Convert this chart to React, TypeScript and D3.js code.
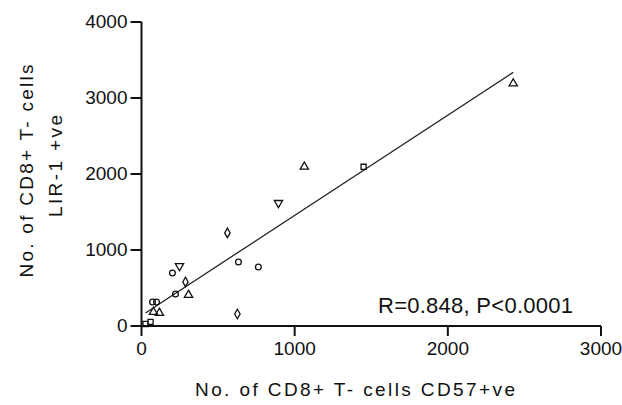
import React from "react";
import * as d3 from "d3";

// CD8+ T-cell counts per subject
const cd57Counts = [2427, 1450, 1063, 894, 561, 633, 763, 626, 248, 202, 287, 307, 222, 72, 98, 78, 117, 59, 26];
const lir1Counts = [3190, 2095, 2095, 1620, 1225, 843, 777, 158, 790, 698, 580, 408, 422, 316, 316, 184, 171, 53, 26];
const markerKinds = ["tri", "sq", "tri", "triDown", "dia", "circ", "circ", "dia", "triDown", "circ", "dia", "tri", "circ", "circ", "circ", "tri", "tri", "sq", "sq"];

const xTicks = [0, 1000, 2000, 3000];
const yTicks = [0, 1000, 2000, 3000, 4000];
const statsLabel = "R=0.848, P<0.0001";

const W = 622;
const H = 405;
const FONT = "'Liberation Sans', Arial, sans-serif";

export default function App() {
  const x = d3.scaleLinear().domain([0, 3000]).range([141.5, 601]);
  const y = d3.scaleLinear().domain([0, 4000]).range([326, 22]);

  // least-squares fit of LIR-1+ve against CD57+ve
  const mx = d3.mean(cd57Counts)!;
  const my = d3.mean(lir1Counts)!;
  const sxy = d3.sum(cd57Counts, (v, i) => (v - mx) * (lir1Counts[i] - my));
  const sxx = d3.sum(cd57Counts, (v) => (v - mx) * (v - mx));
  const slope = sxy / sxx;
  const intercept = my - slope * mx;
  const [x0, x1] = d3.extent(cd57Counts) as [number, number];
  const fitLine = d3.line<number>().x((v) => x(v)).y((v) => y(intercept + slope * v))([x0, x1]);

  const symbolFor = (k: string) => {
    if (k === "sq") return d3.symbol().type(d3.symbolSquare).size(26)();
    if (k === "dia") return d3.symbol().type(d3.symbolDiamond).size(26)();
    if (k === "circ") return d3.symbol().type(d3.symbolCircle).size(26)();
    return d3.symbol().type(d3.symbolTriangle).size(30)();
  };

  return (
    <svg width={W} height={H} style={{ position: "absolute", left: 0, top: 0, background: "#fff" }} fontFamily={FONT}>
      {/* axes */}
      <line x1={x(0)} x2={x(0)} y1={y(4000)} y2={y(0)} stroke="#111" strokeWidth={2} />
      <line x1={x(0)} x2={x(3000)} y1={y(0)} y2={y(0)} stroke="#111" strokeWidth={2} />
      {yTicks.map((t) => (
        <g key={"y" + t}>
          <line x1={x(0) - 11} x2={x(0)} y1={y(t)} y2={y(t)} stroke="#111" strokeWidth={2} />
          <text x={x(0) - 14} y={y(t)} dy="0.32em" textAnchor="end" fontSize={19} fill="#111">{t}</text>
        </g>
      ))}
      {xTicks.map((t) => (
        <g key={"x" + t}>
          <line x1={x(t)} x2={x(t)} y1={y(0)} y2={y(0) + 10} stroke="#111" strokeWidth={2} />
          <text x={x(t)} y={355} textAnchor="middle" fontSize={19} fill="#111">{t}</text>
        </g>
      ))}

      {/* axis titles */}
      <text x={355} y={396} textAnchor="middle" fontSize={19} fill="#111" textLength={320} lengthAdjust="spacing">
        No. of CD8+ T- cells CD57+ve
      </text>
      <g transform="translate(33,171) rotate(-90)">
        <text x={0} y={0} textAnchor="middle" fontSize={19} fill="#111" textLength={213} lengthAdjust="spacing">
          No. of CD8+ T- cells
        </text>
      </g>
      <g transform="translate(62,166) rotate(-90)">
        <text x={0} y={0} textAnchor="middle" fontSize={19} fill="#111" textLength={102} lengthAdjust="spacing">
          LIR-1 +ve
        </text>
      </g>

      {/* regression line */}
      <path d={fitLine ?? ""} fill="none" stroke="#222" strokeWidth={1.3} />

      {/* points */}
      {cd57Counts.map((v, i) => (
        <path
          key={i}
          d={symbolFor(markerKinds[i]) ?? ""}
          transform={`translate(${x(v)},${y(lir1Counts[i])})${markerKinds[i] === "triDown" ? " rotate(180)" : ""}`}
          fill="none"
          stroke="#111"
          strokeWidth={1.3}
        />
      ))}

      {/* correlation */}
      <text x={378} y={313} fontSize={22} fill="#111" textLength={195} lengthAdjust="spacing">{statsLabel}</text>
    </svg>
  );
}
